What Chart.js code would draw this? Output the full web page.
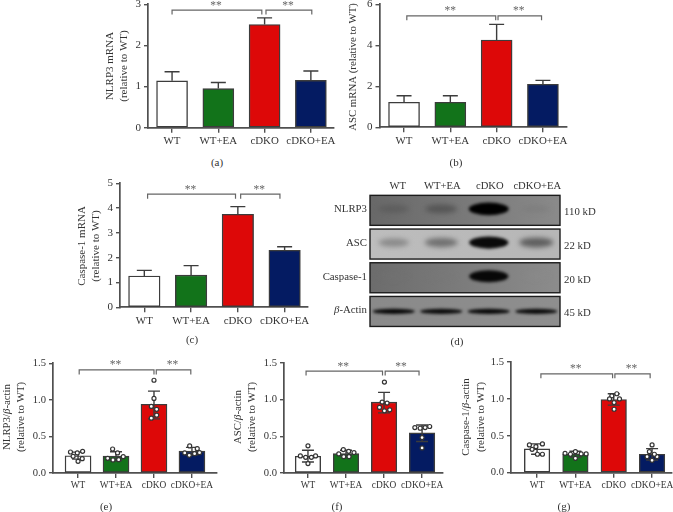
<!DOCTYPE html>
<html><head><meta charset="utf-8">
<script src="https://cdn.jsdelivr.net/npm/chart.js@4"></script>
<style>
html,body{margin:0;padding:0;background:#fff;width:673px;height:512px;overflow:hidden}
#stage{position:relative;width:673px;height:512px;overflow:hidden}
canvas{position:absolute;display:block}
.cap{position:absolute;transform:translate(-50%,-50%);font:11px "Liberation Serif",serif;color:#333;white-space:nowrap}
</style></head><body><div id="stage"></div>
<script>
const categories = ['WT','WT+EA','cDKO','cDKO+EA'];
const barColors = ['#ffffff','#12731a','#dd0808','#041b62'];

const nlrp3Mrna = [1.14,0.95,2.51,1.15];
const nlrp3MrnaErr = [1.36,1.10,2.67,1.38];
const ascMrna = [1.22,1.22,4.26,2.10];
const ascMrnaErr = [1.54,1.54,5.02,2.29];
const casp1Mrna = [1.26,1.30,3.75,2.30];
const casp1MrnaErr = [1.49,1.68,4.06,2.44];

const nlrp3Actin = [0.236,0.23,0.94,0.30];
const nlrp3ActinHi = [0.285,0.29,1.12,0.35];
const nlrp3ActinLo = [0.19,0.17,0.74,0.25];
const nlrp3ActinPts = [[0.287,0.274,0.296,0.228,0.16,0.196],[0.328,0.274,0.223,0.2,0.178,0.182],[1.268,1.02,0.91,0.87,0.79,0.75],[0.37,0.333,0.274,0.242,0.264,0.278]];
const nlrp3ActinJit = [[-0.2,-0.02,0.12,-0.13,0,0.11],[-0.09,0.04,0.19,-0.22,-0.08,0.07],[0,0,-0.07,0.07,0.07,-0.07],[-0.06,0.14,-0.19,-0.07,0.07,0.2]];

const ascActin = [0.228,0.264,0.967,0.547];
const ascActinHi = [0.31,0.31,1.10,0.655];
const ascActinLo = [0.15,0.23,0.82,0.43];
const ascActinPts = [[0.37,0.233,0.214,0.214,0.233,0.128],[0.32,0.26,0.296,0.278,0.223,0.223],[1.24,0.967,0.953,0.894,0.862,0.848],[0.62,0.61,0.62,0.634,0.483,0.342]];
const ascActinJit = [[0,-0.2,-0.06,0.09,0.2,0],[-0.07,-0.19,0.07,0.21,-0.06,0.08],[0.01,-0.05,0.08,-0.12,0.15,0.01],[-0.19,-0.05,0.08,0.2,0,0]];

const casp1Actin = [0.322,0.25,0.992,0.25];
const casp1ActinHi = [0.39,0.29,1.07,0.326];
const casp1ActinLo = [0.25,0.21,0.915,0.17];
const casp1ActinPts = [[0.376,0.353,0.39,0.317,0.25,0.25],[0.263,0.25,0.285,0.254,0.254,0.195],[1.04,1.07,1.0,1.0,0.95,0.86],[0.376,0.285,0.217,0.217,0.25,0.168]];
const casp1ActinJit = [[-0.2,-0.03,0.14,-0.13,0.01,0.14],[-0.27,-0.13,0,0.15,0.28,0],[-0.05,0.08,-0.11,0.15,0.01,0.01],[0,-0.07,-0.13,0.13,0.06,0]];

const blotRows = ['NLRP3','ASC','Caspase-1','β-Actin'];
const blotSizes = ['110 kD','22 kD','20 kD','45 kD'];
const blotBands = [[0.42,0.50,1.0,0.20],[0.42,0.55,0.95,0.62],[0.25,0.20,0.95,0.08],[0.95,0.92,0.95,0.92]];
const blotBackgroundLeft = ['#686868','#bdbdbd','#6c6c6c','#8a8a8a'];
const blotBackgroundRight = ['#8a8a8a','#b6b6b6','#8c8c8c','#8e8e8e'];

const SERIF = '"Liberation Serif",serif';
const AXIS = '#505050';
const TXT = '#333';
const panelOf = new WeakMap();

function richText(ctx, text, x, y, size, align){
  const parts = text.split(/(β)/).filter(Boolean);
  const fonts = parts.map(p => (p==='β'?'italic ':'')+size+'px '+SERIF);
  let w = 0; parts.forEach((p,i)=>{ctx.font=fonts[i]; w+=ctx.measureText(p).width;});
  let cx = align==='right'? x-w : align==='left'? x : x-w/2;
  ctx.textAlign='left'; ctx.textBaseline='middle'; ctx.fillStyle=TXT;
  parts.forEach((p,i)=>{ctx.font=fonts[i]; ctx.fillText(p,cx,y); cx+=ctx.measureText(p).width;});
}

const panelPlugin = {
  id:'panel',
  afterDatasetDraw(chart,args){
    if(args.index!==0) return;
    const c = panelOf.get(chart.canvas), ctx = chart.ctx, xs = chart.scales.x, ys = chart.scales.y;
    ctx.save(); ctx.strokeStyle='#3c3c3c'; ctx.lineWidth=1.4;
    c.hi.forEach((h,i)=>{
      const x = xs.getPixelForValue(i), yH = ys.getPixelForValue(h);
      const lo = c.lo ? c.lo[i] : c.vals[i], yL = ys.getPixelForValue(lo);
      ctx.beginPath(); ctx.moveTo(x,yL); ctx.lineTo(x,yH);
      ctx.moveTo(x-c.cap,yH); ctx.lineTo(x+c.cap,yH);
      if(c.lo){ctx.moveTo(x-c.cap,yL); ctx.lineTo(x+c.cap,yL);}
      ctx.stroke();
    });
    ctx.restore();
  },
  afterDraw(chart){
    const c = panelOf.get(chart.canvas), ctx = chart.ctx, xs = chart.scales.x, ys = chart.scales.y;
    ctx.save();
    const yB = ys.getPixelForValue(c.bracketY);
    ctx.strokeStyle='#666'; ctx.lineWidth=1.2;
    c.brackets.forEach(b=>{
      const x1=xs.getPixelForValue(b[0]), x2=xs.getPixelForValue(b[1]);
      ctx.beginPath(); ctx.moveTo(x1,yB+4.5); ctx.lineTo(x1,yB); ctx.lineTo(x2,yB); ctx.lineTo(x2,yB+4.5); ctx.stroke();
      ctx.font='11.5px '+SERIF; ctx.fillStyle='#666'; ctx.textAlign='center'; ctx.textBaseline='alphabetic';
      ctx.fillText('**',(x1+x2)/2-1,yB-1.5);
    });
    c.title.forEach((t,i)=>{
      ctx.save();
      ctx.translate(c.titleX[i]-c.box[0], c.titleY-c.box[1]);
      ctx.rotate(-Math.PI/2);
      richText(ctx,t,0,0,c.titleSize,'center');
      ctx.restore();
    });
    ctx.restore();
  }
};

function barPanel(c){
  const box = c.box;
  const cv = document.createElement('canvas');
  cv.width=box[2]; cv.height=box[3];
  cv.style.left=box[0]+'px'; cv.style.top=box[1]+'px';
  document.getElementById('stage').appendChild(cv);
  panelOf.set(cv,c);
  const datasets = [{
    type:'bar', order:1,
    data:c.vals.map((v,i)=>({x:i,y:v})),
    backgroundColor:barColors, borderColor:'#3c3c3c', borderWidth:1.4, borderSkipped:false,
    barThickness:c.barW
  }];
  if(c.pts){
    datasets.push({
      type:'scatter', order:0,
      data:c.pts.flatMap((g,i)=>g.map((v,j)=>({x:i+c.jit[i][j],y:v}))),
      pointRadius:2, pointBackgroundColor:'#fff', pointBorderColor:'#333', pointBorderWidth:1.2, clip:false
    });
  }
  new Chart(cv,{
    data:{datasets},
    options:{
      responsive:false, animation:false, devicePixelRatio:1,
      layout:{padding:{left:0,top:c.top-box[1],right:box[0]+box[2]-c.right,bottom:0}},
      plugins:{legend:{display:false},tooltip:{enabled:false},title:{display:false}},
      scales:{
        x:{type:'linear',min:c.xMin,max:c.xMax,offset:false,
          afterBuildTicks:s=>{s.ticks=categories.map((_,i)=>({value:i}));},
          afterFit:s=>{s.height=box[1]+box[3]-c.bottom;},
          grid:{display:true,offset:false,drawOnChartArea:false,drawTicks:true,tickLength:5,tickColor:AXIS,lineWidth:1.4},
          border:{display:true,color:AXIS,width:1.7},
          ticks:{autoSkip:false,maxRotation:0,padding:c.labelPad,color:TXT,font:{family:SERIF,size:c.xFont},callback:v=>categories[v]}
        },
        y:{type:'linear',min:0,max:c.yMax,
          afterFit:s=>{s.width=c.left-box[0];},
          grid:{display:true,drawOnChartArea:false,drawTicks:true,tickLength:4,tickColor:AXIS,lineWidth:1.4},
          border:{display:true,color:AXIS,width:1.7},
          ticks:{stepSize:c.step,padding:3,color:TXT,font:{family:SERIF,size:c.yFont},
            callback:v=>c.step<1?Number(v).toFixed(1):String(v)}
        }
      }
    },
    plugins:[panelPlugin]
  });
}

const panels = [
 {box:[90,-10,260,164],left:148,right:334,top:4.3,bottom:127.7,xMin:-0.52,xMax:3.5,yMax:3,step:1,barW:31,cap:7.5,vals:nlrp3Mrna,hi:nlrp3MrnaErr,
  xFont:10.9,yFont:11,labelPad:2,title:['NLRP3 mRNA','(relative to WT)'],titleX:[110,124],titleY:66,titleSize:11,bracketY:2.86,brackets:[[0,1.94],[2.03,3.02]]},
 {box:[340,-10,240,164],left:379.5,right:567,top:4.3,bottom:127.3,xMin:-0.53,xMax:3.52,yMax:6,step:2,barW:31,cap:7.5,vals:ascMrna,hi:ascMrnaErr,
  xFont:10.9,yFont:11,labelPad:2,title:['ASC mRNA (relative to WT)'],titleX:[353],titleY:67,titleSize:10.8,bracketY:5.44,brackets:[[0.06,1.98],[2.03,2.97]]},
 {box:[70,170,250,165],left:120,right:308,top:183.3,bottom:307.3,xMin:-0.52,xMax:3.5,yMax:5,step:1,barW:31.5,cap:7.5,vals:casp1Mrna,hi:casp1MrnaErr,
  xFont:10.9,yFont:11,labelPad:2,title:['Caspase-1 mRNA','(relative to WT)'],titleX:[82,96],titleY:246,titleSize:11,bracketY:4.56,brackets:[[0.07,1.95],[2.06,2.9]]},
 {box:[0,350,228,160],left:53,right:217,top:363.3,bottom:473,xMin:-0.66,xMax:3.66,yMax:1.5,step:0.5,barW:26,cap:6,vals:nlrp3Actin,hi:nlrp3ActinHi,lo:nlrp3ActinLo,pts:nlrp3ActinPts,jit:nlrp3ActinJit,
  xFont:9.4,yFont:10.6,labelPad:2,title:['NLRP3/β-actin','(relative to WT)'],titleX:[7,21],titleY:417,titleSize:10.8,bracketY:1.41,brackets:[[0.03,2.0],[2.06,2.97]]},
 {box:[228,350,224,160],left:284,right:443,top:363,bottom:473,xMin:-0.63,xMax:3.55,yMax:1.5,step:0.5,barW:25.5,cap:6,vals:ascActin,hi:ascActinHi,lo:ascActinLo,pts:ascActinPts,jit:ascActinJit,
  xFont:9.4,yFont:10.6,labelPad:2,title:['ASC/β-actin','(relative to WT)'],titleX:[238,252],titleY:417,titleSize:10.8,bracketY:1.39,brackets:[[-0.05,1.96],[2.03,2.92]]},
 {box:[456,350,224,160],left:511,right:672,top:362,bottom:472.7,xMin:-0.68,xMax:3.52,yMax:1.5,step:0.5,barW:25.5,cap:6,vals:casp1Actin,hi:casp1ActinHi,lo:casp1ActinLo,pts:casp1ActinPts,jit:casp1ActinJit,
  xFont:9.4,yFont:10.6,labelPad:2,title:['Caspase-1/β-actin','(relative to WT)'],titleX:[466,481],titleY:417,titleSize:10.8,bracketY:1.34,brackets:[[0.1,1.97],[2.03,2.95]]}
];
panels.forEach(barPanel);

/* western blot panel (d) */
const blotPlugin = {
  id:'blot',
  afterDraw(chart){
    const ctx=chart.ctx, xs=chart.scales.x, ys=chart.scales.y, a=chart.chartArea;
    const rowH=30;
    blotRows.forEach((r,ri)=>{
      const yc=ys.getPixelForValue(ri);
      const top=yc-rowH/2;
      ctx.save();
      ctx.beginPath(); ctx.rect(a.left,top,a.right-a.left,rowH); ctx.clip();
      const bg=ctx.createLinearGradient(a.left,0,a.right,0);
      bg.addColorStop(0,blotBackgroundLeft[ri]); bg.addColorStop(1,blotBackgroundRight[ri]);
      ctx.fillStyle=bg; ctx.fillRect(a.left,top,a.right-a.left,rowH);
      blotBands[ri].forEach((v,li)=>{
        const x=xs.getPixelForValue(li);
        const g=Math.round(150*(1-v)+(ri===1?45:0)*(1-v));
        ctx.filter='blur('+(v>0.9?1.8:2.6)+'px)';
        ctx.fillStyle='rgb('+g+','+g+','+g+')';
        ctx.globalAlpha=Math.min(1,0.35+v*0.75);
        const hw=ri===3?21:(12+v*8), hh=ri===3?2.6:(2.5+v*3.8);
        ctx.beginPath(); ctx.ellipse(x,yc-(ri===3?0:1.5),hw,hh,0,0,Math.PI*2); ctx.fill();
      });
      ctx.restore();
      ctx.strokeStyle='#1c1c1c'; ctx.lineWidth=1.4;
      ctx.strokeRect(a.left,top,a.right-a.left,rowH);
      richText(ctx,r,a.left-3,yc-1,10.8,'right');
      richText(ctx,blotSizes[ri],a.right+4,yc+2,10.8,'left');
    });
    categories.forEach((c,i)=>{
      richText(ctx,c,xs.getPixelForValue(i)+(i===0?4:1),a.top-7.5,10.6,'center');
    });
  }
};
(function(){
  const cv=document.createElement('canvas');
  cv.width=280; cv.height=160; cv.style.left='320px'; cv.style.top='175px';
  document.getElementById('stage').appendChild(cv);
  new Chart(cv,{
    type:'bar',
    data:{labels:categories,datasets:[{data:[],yAxisID:'y'}]},
    options:{responsive:false,animation:false,devicePixelRatio:1,
      layout:{padding:{left:50,right:40,top:18.5,bottom:6.7}},
      plugins:{legend:{display:false},tooltip:{enabled:false}},
      scales:{
        x:{type:'category',display:false,labels:categories,offset:true},
        y:{type:'category',display:false,labels:blotRows,offset:true}
      }
    },
    plugins:[blotPlugin]
  });
})();

const captions=[['(a)',217,162],['(b)',456,162],['(c)',192,339],['(d)',457,341],['(e)',106,506],['(f)',337,506],['(g)',564,506]];
captions.forEach(c=>{const d=document.createElement('div');d.className='cap';d.textContent=c[0];d.style.left=c[1]+'px';d.style.top=c[2]+'px';document.getElementById('stage').appendChild(d);});
</script></body></html>
